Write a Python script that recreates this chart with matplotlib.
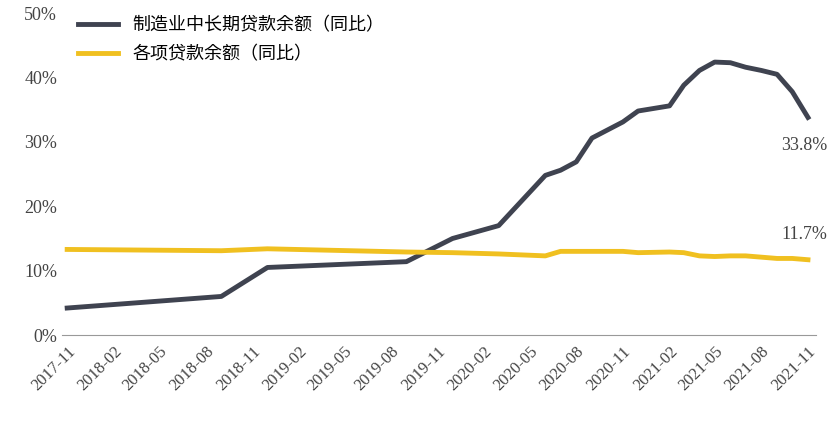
import matplotlib
matplotlib.use("Agg")
import matplotlib.pyplot as plt
import pandas as pd

# manufacturing medium/long-term loans, yoy %
mfg_dates = ["2017-11", "2018-09", "2018-12", "2019-09", "2019-12", "2020-03", "2020-06",
             "2020-07", "2020-08", "2020-09", "2020-11", "2020-12", "2021-02", "2021-03",
             "2021-04", "2021-05", "2021-06", "2021-07", "2021-08", "2021-09", "2021-10",
             "2021-11"]
mfg_vals = [4.2, 6.0, 10.5, 11.4, 15.0, 17.0, 24.8, 25.6, 26.9, 30.6, 33.1, 34.8, 35.6,
            38.8, 41.1, 42.4, 42.3, 41.6, 41.1, 40.5, 37.8, 33.8]
# all loans, yoy %
all_dates = mfg_dates
all_vals = [13.3, 13.1, 13.4, 12.9, 12.8, 12.6, 12.3, 13.0, 13.0, 13.0, 13.0, 12.8, 12.9,
            12.8, 12.3, 12.2, 12.3, 12.3, 12.1, 11.9, 11.9, 11.7]

tick_labels = pd.date_range("2017-11", "2021-11", freq="3MS")

fd = pd.to_datetime(mfg_dates)
ad = pd.to_datetime(all_dates)

plt.rcParams["font.family"] = ["Noto Sans CJK SC", "Noto Sans CJK JP", "Noto Sans CJK TC",
                               "DejaVu Sans"]
fig, ax = plt.subplots(figsize=(8.28, 4.38), dpi=100)
fig.subplots_adjust(left=0.075, right=0.985, top=0.97, bottom=0.235)

ax.plot(fd, mfg_vals, color="#3f4350", lw=3.5, label="制造业中长期贷款余额（同比）")
ax.plot(ad, all_vals, color="#f0c020", lw=3.5, label="各项贷款余额（同比）")

ax.set_ylim(0, 50)
ax.set_yticks(range(0, 51, 10))
ax.set_yticklabels([f"{v}%" for v in range(0, 51, 10)], family="Liberation Serif",
                   fontsize=13, color="#444444")
ax.set_xlim(tick_labels[0] - pd.Timedelta(days=10), tick_labels[-1] + pd.Timedelta(days=15))
ax.set_xticks(tick_labels)
ax.set_xticklabels([d.strftime("%Y-%m") for d in tick_labels], rotation=45, ha="right",
                   rotation_mode="anchor", family="Liberation Serif", fontsize=12,
                   color="#444444")
ax.tick_params(length=0, axis="x", pad=6)
ax.tick_params(length=0, axis="y")
for s in ["top", "right", "left"]:
    ax.spines[s].set_visible(False)
ax.spines["bottom"].set_color("#999999")

ax.annotate("33.8%", (fd[-1], mfg_vals[-1]), xytext=(14, -14), textcoords="offset points",
            ha="right", va="top", family="Liberation Serif", fontsize=13, color="#444444")
ax.annotate("11.7%", (ad[-1], all_vals[-1]), xytext=(14, 12), textcoords="offset points",
            ha="right", va="bottom", family="Liberation Serif", fontsize=13, color="#444444")

ax.legend(loc="upper left", bbox_to_anchor=(0.0, 1.04), frameon=False, fontsize=13,
          handlelength=2.2, labelspacing=0.6)
fig.savefig("out.png")
